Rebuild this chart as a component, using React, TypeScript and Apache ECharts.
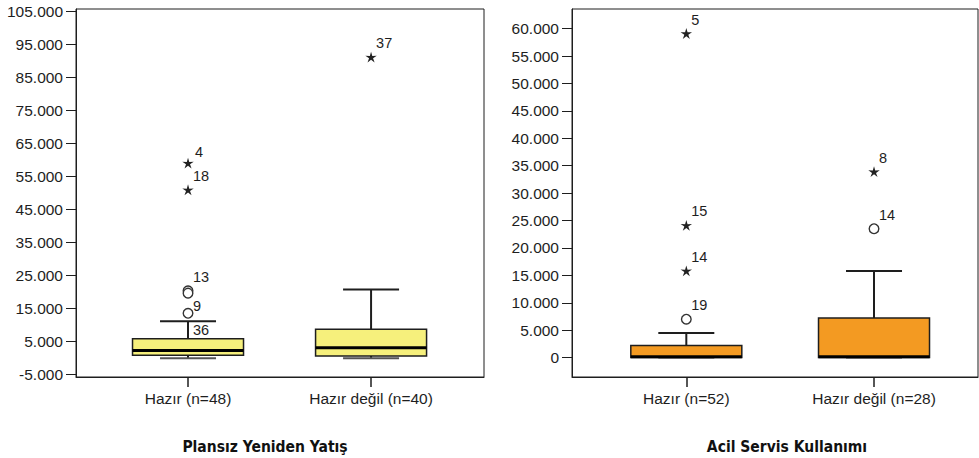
import { useEffect, useRef } from 'react';
import * as echarts from 'echarts';

// ---------- data ----------
const leftTitle = 'Plansız Yeniden Yatış';
const leftCategories = ['Hazır (n=48)', 'Hazır değil (n=40)'];
// [categoryIndex, min, Q1, median, Q3, max]
const leftBoxes = [
  [0, 0, 900, 2300, 5900, 11200],
  [1, 0, 700, 3200, 8800, 20800],
];
// outliers (circles): [categoryIndex, value, case label]
const leftOutliers: [number, number, string][] = [
  [0, 13600, '9'],
  [0, 20400, '13'],
  [0, 19700, ''],
];
// extremes (stars)
const leftExtremes: [number, number, string][] = [
  [0, 59100, '4'],
  [0, 51000, '18'],
  [1, 91200, '37'],
];
// case labels shown without a visible marker
const leftCaseLabels: [number, number, string][] = [[0, 11200, '36']];
const leftTicks = [-5000, 5000, 15000, 25000, 35000, 45000, 55000, 65000, 75000, 85000, 95000, 105000];

const rightTitle = 'Acil Servis Kullanımı';
const rightCategories = ['Hazır (n=52)', 'Hazır değil (n=28)'];
const rightBoxes = [
  [0, 0, 0, 150, 2200, 4500],
  [1, 0, 0, 150, 7200, 15800],
];
const rightOutliers: [number, number, string][] = [
  [0, 7000, '19'],
  [1, 23500, '14'],
];
const rightExtremes: [number, number, string][] = [
  [0, 59100, '5'],
  [0, 24100, '15'],
  [0, 15800, '14'],
  [1, 33900, '8'],
];
const rightCaseLabels: [number, number, string][] = [];
const rightTicks = [0, 5000, 10000, 15000, 20000, 25000, 30000, 35000, 40000, 45000, 50000, 55000, 60000];

// ---------- styles / layout ----------
const FONT = "'Liberation Sans', Arial, sans-serif";
const TITLE_FONT = "'DejaVu Sans Condensed', 'Liberation Sans', sans-serif";
const INK = '#1e1e1e';
const BOX_W = 111;
const CAP_W = 56;
const LABEL_DX = 5;
const LABEL_DY = -14;
const LABEL_NUDGE: Record<string, [number, number]> = { '9': [0, 7], '4': [2, 3], '36': [0, 23] };

const panels = [
  {
    title: leftTitle, titleX: 265, categories: leftCategories, boxes: leftBoxes,
    outliers: leftOutliers, extremes: leftExtremes, caseLabels: leftCaseLabels, ticks: leftTicks,
    grid: { left: 76, top: 9, width: 408, height: 368 },
    xMin: -0.612, xMax: 1.617, yMin: -5700, yMax: 105800, fill: '#F6F07C', nudge: true,
  },
  {
    title: rightTitle, titleX: 787, categories: rightCategories, boxes: rightBoxes,
    outliers: rightOutliers, extremes: rightExtremes, caseLabels: rightCaseLabels, ticks: rightTicks,
    grid: { left: 572, top: 9, width: 406, height: 368 },
    xMin: -0.609, xMax: 1.554, yMin: -3540, yMax: 63580, fill: '#F39A22', nudge: false,
  },
];

function fmt(v: number): string {
  if (v === 0) return '0';
  const a = Math.abs(v);
  const th = Math.floor(a / 1000);
  const rest = String(Math.round(a % 1000)).padStart(3, '0');
  return (v < 0 ? '-' : '') + th + '.' + rest;
}

function starPoints(cx: number, cy: number, R: number, r: number) {
  const pts: number[][] = [];
  for (let i = 0; i < 10; i++) {
    const ang = -Math.PI / 2 + (i * Math.PI) / 5;
    const rad = i % 2 === 0 ? R : r;
    pts.push([cx + rad * Math.cos(ang), cy + rad * Math.sin(ang)]);
  }
  return pts;
}

function labelEl(text: string, cx: number, cy: number, nudge: boolean) {
  const n = nudge && LABEL_NUDGE[text] ? LABEL_NUDGE[text] : [0, 0];
  return {
    type: 'text',
    style: {
      text, x: cx + LABEL_DX + n[0], y: cy + LABEL_DY + n[1],
      align: 'left', verticalAlign: 'middle',
      font: `14.5px ${FONT}`, fill: INK,
    },
  };
}

export default function App() {
  const ref = useRef<HTMLDivElement>(null);
  useEffect(() => {
    if (!ref.current) return;
    const chart = echarts.init(ref.current, undefined, { renderer: 'svg' });

    const grids: any[] = [];
    const xAxes: any[] = [];
    const yAxes: any[] = [];
    const series: any[] = [];
    const graphics: any[] = [];

    panels.forEach((p, i) => {
      grids.push({ ...p.grid, show: true, borderColor: INK, borderWidth: 1, backgroundColor: 'transparent' });
      xAxes.push({
        type: 'value', gridIndex: i, min: p.xMin, max: p.xMax,
        axisLine: { show: true, onZero: false, lineStyle: { color: INK, width: 1 } },
        axisTick: { show: true, length: 10, customValues: [0, 1], lineStyle: { color: INK, width: 1.5 } },
        axisLabel: {
          show: true, customValues: [0, 1], margin: 13,
          formatter: (v: number) => p.categories[Math.round(v)] ?? '',
          fontFamily: FONT, fontSize: 15.5, color: INK,
        },
        splitLine: { show: false },
      });
      yAxes.push({
        type: 'value', gridIndex: i, min: p.yMin, max: p.yMax,
        axisLine: { show: true, onZero: false, lineStyle: { color: INK, width: 1 } },
        axisTick: { show: true, length: 10, customValues: p.ticks, lineStyle: { color: INK, width: 1 } },
        axisLabel: {
          show: true, customValues: p.ticks, margin: 13,
          formatter: (v: number) => fmt(v),
          fontFamily: FONT, fontSize: 15.5, color: INK,
        },
        splitLine: { show: false },
      });

      series.push({
        type: 'custom', xAxisIndex: i, yAxisIndex: i, clip: false,
        data: p.boxes,
        encode: { x: 0, y: [1, 2, 3, 4, 5] },
        renderItem: (params: any, api: any) => {
          const x = api.value(0);
          const cx = api.coord([x, api.value(1)])[0];
          const yMin = api.coord([x, api.value(1)])[1];
          const yQ1 = api.coord([x, api.value(2)])[1];
          const yMed = api.coord([x, api.value(3)])[1];
          const yQ3 = api.coord([x, api.value(4)])[1];
          const yMax = api.coord([x, api.value(5)])[1];
          const wl = { stroke: INK, lineWidth: 2 };
          return {
            type: 'group',
            children: [
              { type: 'line', shape: { x1: cx, y1: yQ3, x2: cx, y2: yMax }, style: wl },
              { type: 'line', shape: { x1: cx - CAP_W / 2, y1: yMax, x2: cx + CAP_W / 2, y2: yMax }, style: wl },
              { type: 'line', shape: { x1: cx, y1: yQ1, x2: cx, y2: yMin }, style: wl },
              { type: 'line', shape: { x1: cx - CAP_W / 2, y1: yMin, x2: cx + CAP_W / 2, y2: yMin }, style: { stroke: '#555', lineWidth: 2 } },
              { type: 'rect', shape: { x: cx - BOX_W / 2, y: yQ3, width: BOX_W, height: Math.max(yQ1 - yQ3, 1) }, style: { fill: p.fill, stroke: INK, lineWidth: 1.5 } },
              { type: 'line', shape: { x1: cx - BOX_W / 2, y1: yMed, x2: cx + BOX_W / 2, y2: yMed }, style: { stroke: '#000', lineWidth: 3 } },
            ],
          };
        },
        z: 2,
      });

      series.push({
        type: 'custom', xAxisIndex: i, yAxisIndex: i, clip: false,
        data: p.outliers.map((d) => [d[0], d[1]]),
        renderItem: (params: any, api: any) => {
          const [cx, cy] = api.coord([api.value(0), api.value(1)]);
          const lab = p.outliers[params.dataIndex][2];
          const children: any[] = [
            { type: 'circle', shape: { cx, cy, r: 4.8 }, style: { fill: '#fff', stroke: '#333', lineWidth: 1.4 } },
          ];
          if (lab) children.push(labelEl(lab, cx, cy, p.nudge));
          return { type: 'group', children };
        },
        z: 3,
      });

      series.push({
        type: 'custom', xAxisIndex: i, yAxisIndex: i, clip: false,
        data: p.extremes.map((d) => [d[0], d[1]]),
        renderItem: (params: any, api: any) => {
          const [cx, cy] = api.coord([api.value(0), api.value(1)]);
          const lab = p.extremes[params.dataIndex][2];
          return {
            type: 'group',
            children: [
              { type: 'polygon', shape: { points: starPoints(cx, cy + 0.5, 6, 2.1) }, style: { fill: '#222' } },
              labelEl(lab, cx, cy, p.nudge),
            ],
          };
        },
        z: 3,
      });

      if (p.caseLabels.length) {
        series.push({
          type: 'custom', xAxisIndex: i, yAxisIndex: i, clip: false,
          data: p.caseLabels.map((d) => [d[0], d[1]]),
          renderItem: (params: any, api: any) => {
            const [cx, cy] = api.coord([api.value(0), api.value(1)]);
            return labelEl(p.caseLabels[params.dataIndex][2], cx, cy, p.nudge);
          },
          z: 3,
        });
      }

      graphics.push({
        type: 'text', x: p.titleX, y: 447,
        style: {
          text: p.title, align: 'center', verticalAlign: 'middle',
          font: `bold 15.5px ${TITLE_FONT}`, fill: '#111',
        },
      });
    });

    chart.setOption({
      animation: false,
      backgroundColor: '#fff',
      grid: grids,
      xAxis: xAxes,
      yAxis: yAxes,
      series,
      graphic: graphics,
    });
    return () => chart.dispose();
  }, []);

  return (
    <div
      ref={ref}
      style={{ position: 'fixed', left: 0, top: 0, width: 979, height: 458, background: '#fff' }}
    />
  );
}
